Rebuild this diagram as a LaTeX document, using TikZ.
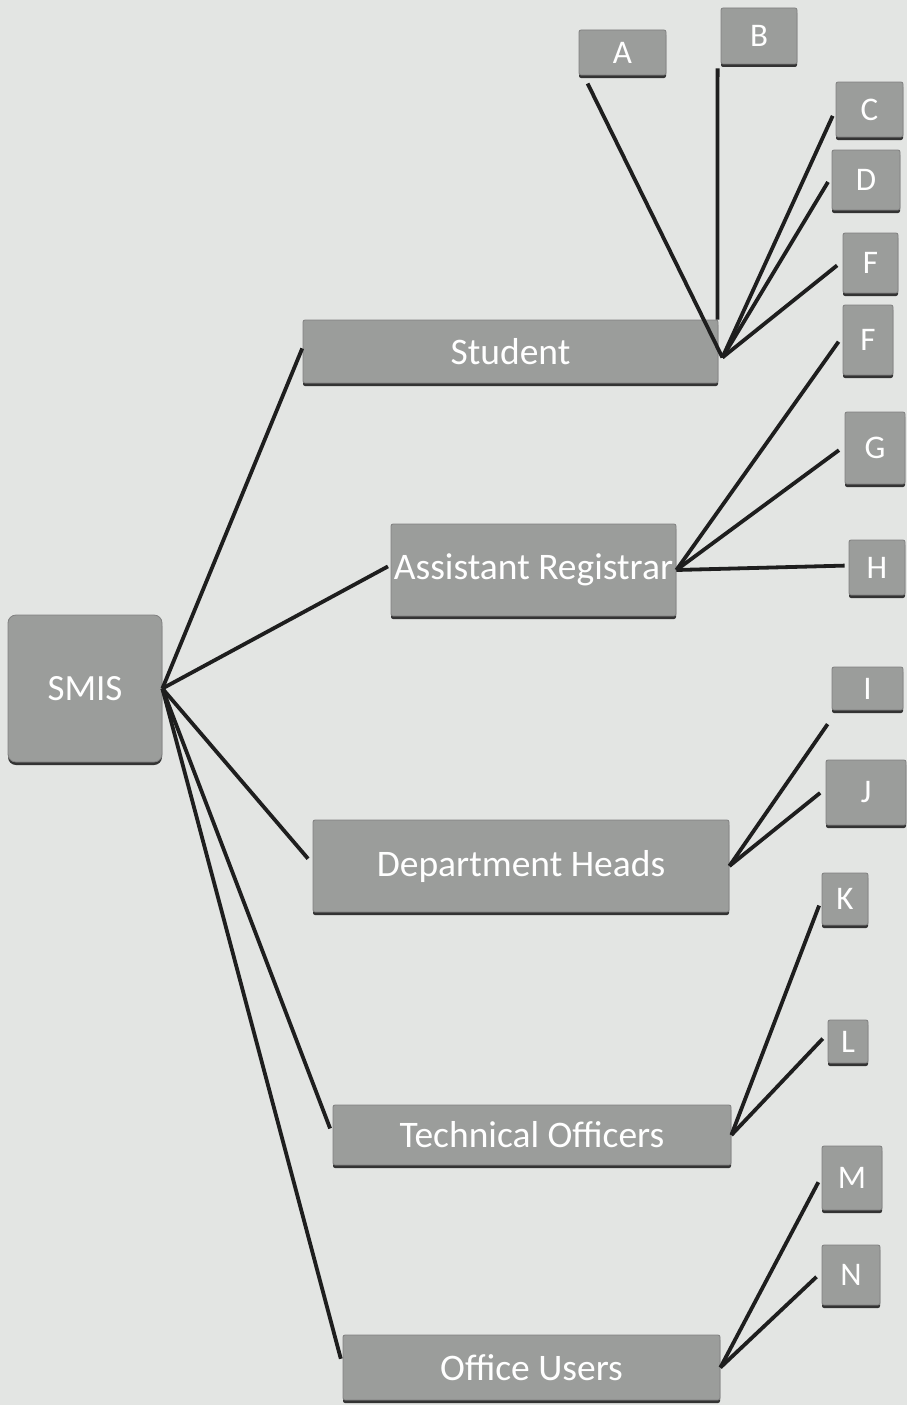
\documentclass[tikz,border=0pt]{standalone}
\usepackage{fontspec}
\setmainfont{Carlito}
\usetikzlibrary{shadows}
\definecolor{paper}{HTML}{E3E5E3}
\definecolor{boxgray}{HTML}{9B9D9B}
\definecolor{inkline}{HTML}{1E1E1E}
\tikzset{
  x=1pt, y=-1pt,
  card/.style={rectangle, rounded corners=2pt, fill=boxgray, draw=black!50, line width=0.8pt,
    inner sep=0pt, text=white, align=center,
    drop shadow={shadow xshift=0pt, shadow yshift=-3pt, fill=black!80, opacity=1}},
  role/.style={card, font=\fontsize{37.5}{40}\selectfont},
  leaf/.style={card, font=\fontsize{33}{36}\selectfont},
  link/.style={draw=inkline, line width=3.8pt, shorten >=7pt},
}
\begin{document}
\begin{tikzpicture}
  \fill[paper] (0,0) rectangle (907,1405);
  \useasboundingbox (0,0) rectangle (907,1405);

  % root
  \node[card, rounded corners=8pt, minimum width=154, minimum height=147,
        font=\fontsize{37}{40}\selectfont] (smis) at (85,688.5) {SMIS};

  % user groups
  \node[role, minimum width=415, minimum height=63] (student) at (510.5,351.5) {Student};
  \node[role, minimum width=285, minimum height=92] (areg) at (533.5,570) {Assistant Registrar};
  \node[role, minimum width=416, minimum height=92] (dheads) at (521,866) {Department Heads};
  \node[role, minimum width=398, minimum height=60] (tech) at (532,1135) {Technical Officers};
  \node[role, minimum width=377, minimum height=65] (office) at (531.5,1367.5) {Office Users};

  % leaves
  \node[leaf, minimum width=87, minimum height=45] (A) at (622.5,52.5) {A};
  \node[leaf, minimum width=76, minimum height=56] (B) at (759,36) {B};
  \node[leaf, minimum width=67, minimum height=55] (C) at (869.5,109.5) {C};
  \node[leaf, minimum width=68, minimum height=60] (D) at (866,180) {D};
  \node[leaf, minimum width=55, minimum height=60] (F1) at (870.5,263) {F};
  \node[leaf, minimum width=50, minimum height=70] (F2) at (868,340) {F};
  \node[leaf, minimum width=60, minimum height=72] (G) at (875,448) {G};
  \node[leaf, minimum width=56, minimum height=55] (H) at (877,567.5) {H};
  \node[leaf, minimum width=71, minimum height=43] (I) at (867.5,688.5) {I};
  \node[leaf, minimum width=80, minimum height=65] (J) at (866,792.5) {J};
  \node[leaf, minimum width=46, minimum height=52] (K) at (845,899) {K};
  \node[leaf, minimum width=40, minimum height=43] (L) at (848,1041.5) {L};
  \node[leaf, minimum width=60, minimum height=64] (M) at (852,1178) {M};
  \node[leaf, minimum width=58, minimum height=60] (N) at (851,1275) {N};

  % root to groups
  \draw[link, shorten >=1pt] (smis.east) -- ([yshift=4]student.west);
  \draw[link, shorten >=3pt] (smis.east) -- ([yshift=5]areg.west);
  \draw[link] (smis.east) -- ([yshift=2]dheads.west);
  \draw[link] (smis.east) -- (tech.west);
  \draw[link] (smis.east) -- ([yshift=2]office.west);

  % student
  \coordinate (sj) at ([xshift=4,yshift=-6]student.east);
  \draw[link, shorten >=9pt] (sj) -- ([xshift=5]A.south west);
  \draw[link, shorten >=4pt] ([xshift=-1]student.north east) -- ([xshift=-3]B.south west);
  \draw[link] (sj) -- (C.west);
  \draw[link] (sj) -- ([yshift=4]D.west);
  \draw[link] (sj) -- ([yshift=2]F1.west);

  % assistant registrar
  \draw[link] (areg.east) -- ([yshift=4]F2.west);
  \draw[link] (areg.east) -- ([yshift=2]G.west);
  \draw[link, shorten >=4pt] (areg.east) -- ([yshift=2]H.west);

  % department heads
  \draw[link] (dheads.east) -- ([yshift=-8]I.south west);
  \draw[link] (dheads.east) -- ([yshift=4]J.west);

  % technical officers
  \draw[link] (tech.east) -- (K.west);
  \draw[link] (tech.east) -- ([yshift=8]L.west);

  % office users
  \draw[link] (office.east) -- ([yshift=2]M.west);
  \draw[link] (office.east) -- ([yshift=3]N.west);
\end{tikzpicture}
\end{document}
